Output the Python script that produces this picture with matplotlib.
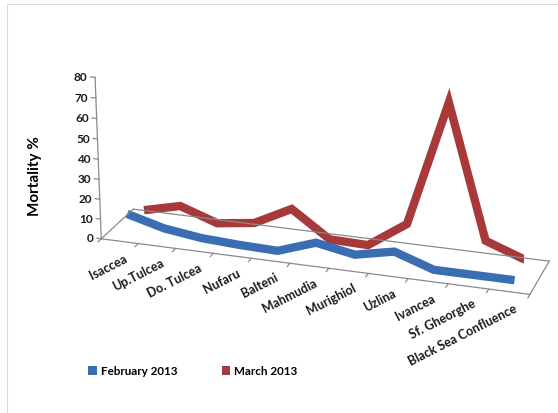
import matplotlib
matplotlib.use("Agg")
import matplotlib.pyplot as plt
import numpy as np
from matplotlib.patches import Patch, Rectangle
from matplotlib.lines import Line2D
from matplotlib.transforms import IdentityTransform
from mpl_toolkits.mplot3d import proj3d

plt.rcParams['font.family'] = ['Lato', 'DejaVu Sans']
plt.rcParams['font.weight'] = 'bold'

# Sampling stations along the Danube branch
stations = ["Isaccea", "Up.Tulcea", "Do. Tulcea", "Nufaru", "Balteni", "Mahmudia",
            "Murighiol", "Uzlina", "Ivancea", "Sf. Gheorghe", "Black Sea Confluence"]
# Mortality (%) per month
feb_2013 = [10, 5, 2.5, 1.5, 1, 7.5, 4, 8, 1.5, 1.5, 1.5]
mar_2013 = [4, 8.5, 2, 4.5, 14, 1, 0.5, 13.5, 75, 10, 3]
value_ticks = [0, 10, 20, 30, 40, 50, 60, 70, 80]
series_names = ["February 2013", "March 2013"]
series_colors = ["#3b6db3", "#a8393b"]

W, H = 558, 414
fig = plt.figure(figsize=(W / 100, H / 100), dpi=100)
ax = fig.add_axes([38 / W, 31 / H, 1.0, 1.0], projection='3d',
                  proj_type='persp', focal_length=1.0)
ax.set_axis_off()
ax.view_init(elev=21, azim=-72)
ax.set_box_aspect((4.48, 0.85, 1.74), zoom=1.149)

n = len(stations)
x = np.arange(n)
x0, x1 = -0.5, n - 0.5
y0, y1 = 0.0, 2.0
z0, z1 = 0, 80
ax.set_xlim(x0, x1)
ax.set_ylim(y0, y1)
ax.set_zlim(z0, z1)

# series ribbons: March behind, February in front
depth = {"feb": 0.5, "mar": 1.55}
ax.plot(x, np.full(n, depth["mar"]), mar_2013, color=series_colors[1], lw=6,
        solid_joinstyle='miter', solid_capstyle='butt', zorder=3)
ax.plot(x, np.full(n, depth["feb"]), feb_2013, color=series_colors[0], lw=6,
        solid_joinstyle='miter', solid_capstyle='butt', zorder=4)

# resolve the projection, then draw the frame and labels at projected points
fig.canvas.draw()


def to_pixels(px, py, pz):
    u, v, _ = proj3d.proj_transform(px, py, pz, ax.M)
    return ax.transData.transform((u, v))


edge = "#8a8a8a"


def frame_line(p, q):
    a, b = to_pixels(*p), to_pixels(*q)
    fig.add_artist(Line2D([a[0], b[0]], [a[1], b[1]], color=edge, lw=0.9,
                          transform=IdentityTransform(), zorder=1))


# floor outline
corners = [(x0, y0, 0), (x1, y0, 0), (x1, y1, 0), (x0, y1, 0)]
for k in range(4):
    frame_line(corners[k], corners[(k + 1) % 4])
# value axis at the front-left corner, with ticks and labels
frame_line((x0, y0, z0), (x0, y0, z1))
for v in value_ticks:
    frame_line((x0 - 0.12, y0, v), (x0, y0, v))
    u, w = to_pixels(x0 - 0.2, y0, v)
    fig.text(u, w, str(v), transform=IdentityTransform(), ha='right',
             va='center', fontsize=8.5, fontweight='bold', color='#1a1a1a')
# category ticks and labels along the front edge
for b in np.arange(x0, x1 + 0.01, 1.0):
    frame_line((b, y0, 0), (b, y0 - 0.2, 0))
for i, name in enumerate(stations):
    u, w = to_pixels(i, y0, 0)
    fig.text(u + 4, w - 10, name, transform=IdentityTransform(), rotation=27,
             ha='right', va='top', rotation_mode='anchor', fontsize=9,
             fontweight='bold', color='#1a1a1a')

fig.text(35 / W, 1 - 176 / H, "Mortality %", rotation=90, ha='center',
         va='center', fontsize=11, fontweight='bold')

handles = [Patch(facecolor=c, edgecolor='none') for c in series_colors]
fig.legend(handles, series_names, loc='center left',
           bbox_to_anchor=(78 / W, 1 - 372 / H), ncol=2, frameon=False,
           handlelength=0.75, handleheight=0.75, handletextpad=0.3,
           columnspacing=3.8, prop={'weight': 'bold', 'size': 8.4})

# chart area border
fig.add_artist(Rectangle((7 / W, -0.1), 1.2, 1.1 - 5 / H,
                         transform=fig.transFigure, fill=False,
                         edgecolor='#d9d9d9', lw=0.8))

fig.savefig("out.png", dpi=100)
